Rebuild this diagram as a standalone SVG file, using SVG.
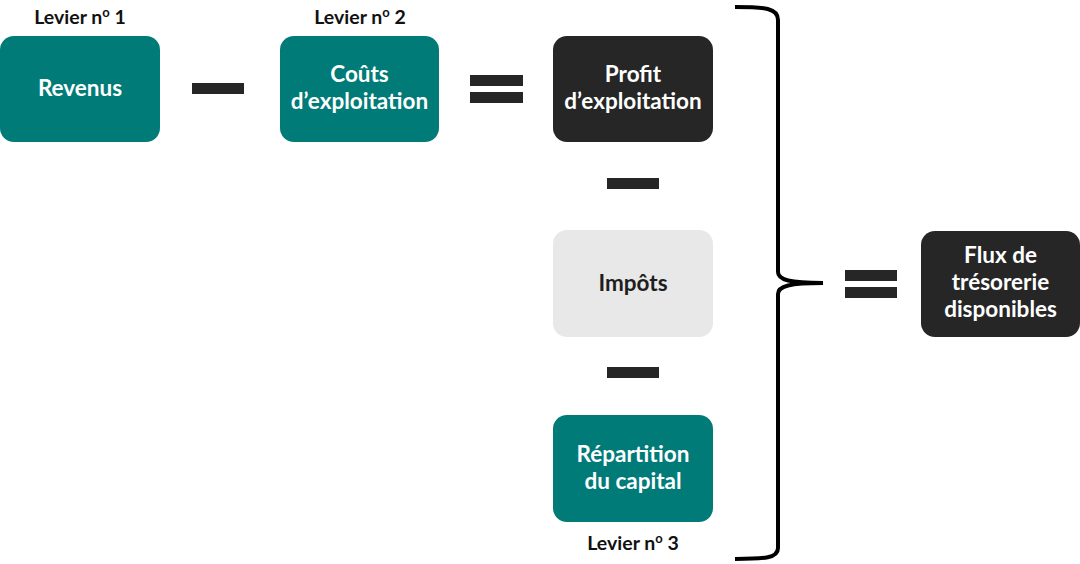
<svg xmlns="http://www.w3.org/2000/svg" width="1080" height="564" viewBox="0 0 1080 564">
<style>
.teal{fill:#017B78}
.dark{fill:#262626}
.light{fill:#E8E8E8}
.t{font-family:Lato,"Open Sans","Liberation Sans",sans-serif;font-weight:bold;font-size:22.5px;text-anchor:middle}
.w{fill:#FFFFFF}
.k{fill:#1E1E1E}
.lbl{font-family:Lato,"Open Sans","Liberation Sans",sans-serif;font-weight:bold;font-size:19.5px;text-anchor:middle;fill:#111111}
.op{fill:#262626}
</style>
<rect width="1080" height="564" fill="#FFFFFF"/>
<g id="revenus">
<rect class="teal" x="0" y="36" width="160" height="106" rx="14"/>
<text class="t w" x="80" y="96">Revenus</text>
</g>
<g id="label1"><text class="lbl" x="80" y="24">Levier n<tspan font-size="13" dy="-7">o</tspan><tspan dy="7"> 1</tspan></text></g>
<g id="couts">
<rect class="teal" x="280" y="36" width="159" height="106" rx="14"/>
<text class="t w" x="359.500" y="82">Coûts</text>
<text class="t w" x="359.500" y="109">d’exploitation</text>
</g>
<g id="label2"><text class="lbl" x="360" y="24">Levier n<tspan font-size="13" dy="-7">o</tspan><tspan dy="7"> 2</tspan></text></g>
<g id="profit">
<rect class="dark" x="553" y="36" width="160" height="106" rx="14"/>
<text class="t w" x="633" y="82">Profit</text>
<text class="t w" x="633" y="109">d’exploitation</text>
</g>
<g id="impots">
<rect class="light" x="553" y="230" width="160" height="107" rx="14"/>
<text class="t k" x="633" y="291">Impôts</text>
</g>
<g id="repartition">
<rect class="teal" x="553" y="415" width="160" height="107" rx="14"/>
<text class="t w" x="633" y="462">Répartition</text>
<text class="t w" x="633" y="489">du capital</text>
</g>
<g id="label3"><text class="lbl" x="633" y="550">Levier n<tspan font-size="13" dy="-7">o</tspan><tspan dy="7"> 3</tspan></text></g>
<g id="flux">
<rect class="dark" x="921" y="231" width="159" height="106" rx="14"/>
<text class="t w" x="1000.500" y="263">Flux de</text>
<text class="t w" x="1000.500" y="290">trésorerie</text>
<text class="t w" x="1000.500" y="317">disponibles</text>
</g>
<g id="connectors">
<rect class="op" x="192" y="83" width="52" height="11"/>
<rect class="op" x="470" y="75" width="53" height="11"/>
<rect class="op" x="470" y="92" width="53" height="11"/>
<rect class="op" x="607" y="178" width="52" height="11"/>
<rect class="op" x="607" y="367" width="52" height="11"/>
<rect class="op" x="845" y="270" width="52" height="11"/>
<rect class="op" x="845" y="287" width="52" height="11"/>
<path d="M735 7 C765 7 778 8 778 20 L778 272 C778 280 790 283 823 283 C790 283 778 286 778 294 L778 548 C778 558 765 559 735 559" fill="none" stroke="#000000" stroke-width="4"/>
</g>
</svg>
